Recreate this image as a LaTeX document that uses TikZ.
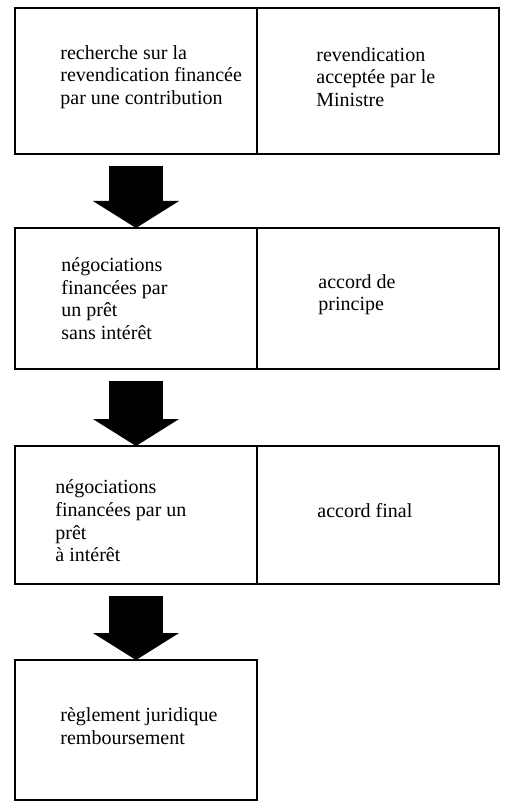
\documentclass[tikz,border=0pt]{standalone}
\usepackage{fontspec}
\setmainfont{Liberation Serif}
\usepackage{tikz}
\usetikzlibrary{positioning, arrows.meta}

\begin{document}
\begin{tikzpicture}[x=1pt,y=1pt,node distance=38pt]
		\tikzstyle{cell}=[draw,line width=1pt,rectangle,minimum width=121pt,inner sep=0pt,outer sep=0pt]
		\tikzstyle{txt}=[align=left,inner sep=0pt,font=\fontsize{10}{11.3}\selectfont]
		\tikzstyle{fat}=[line width=27pt,-{Triangle[length=13.5pt,width=42.5pt]}]
		
		\useasboundingbox (0,0) rectangle (252,-400.5);
		
		\node[cell,minimum height=73pt,anchor=north west] (l1) at (7.5,-4) {};
		\node[cell,minimum height=73pt] (r1) [right=0pt of l1] {};
		\node[cell,minimum height=70.5pt] (l2) [below=37pt of l1] {};
		\node[cell,minimum height=70.5pt] (r2) [right=0pt of l2] {};
		\node[cell,minimum height=69pt] (l3) [below=38.5pt of l2] {};
		\node[cell,minimum height=69pt] (r3) [right=0pt of l3] {};
		\node[cell,minimum height=70pt] (l4) [below=38pt of l3] {};
		
		\node[txt] (t1) [right=22.5pt of l1.west,yshift=2pt] {recherche sur la\\revendication financée\\par une contribution};
		\node[txt] (s1) [right=29.5pt of r1.west,yshift=2pt] {revendication\\acceptée par le\\Ministre};
		\node[txt] (t2) [right=23pt of l2.west] {négociations\\financées par\\un prêt\\sans intérêt};
		\node[txt] (s2) [right=30.5pt of r2.west,yshift=2pt] {accord de\\principe};
		\node[txt] (t3) [right=20pt of l3.west,yshift=-3pt] {négociations\\financées par un\\prêt\\à intérêt};
		\node[txt] (s3) [right=30pt of r3.west,yshift=2pt] {accord final};
		\node[txt] (t4) [right=22.5pt of l4.west,yshift=2pt] {règlement juridique\\remboursement};
		
		\draw[fat] ([yshift=-6pt]l1.south) -- (l2.north);
		\draw[fat] ([yshift=-6pt]l2.south) -- (l3.north);
		\draw[fat] ([yshift=-6pt]l3.south) -- (l4.north);
		
	\end{tikzpicture}
\end{document}
